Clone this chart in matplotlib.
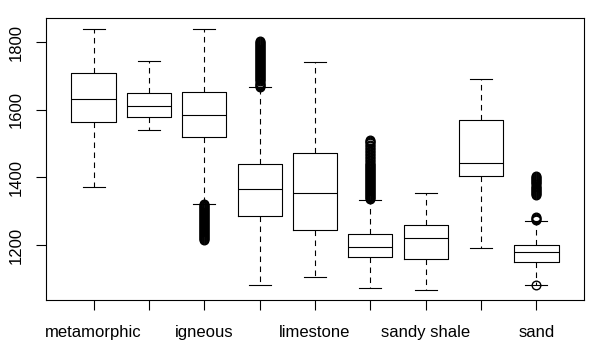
import numpy as np
import matplotlib
matplotlib.use("Agg")
import matplotlib.pyplot as plt

plt.rcParams['font.family'] = ['Liberation Sans', 'DejaVu Sans']

# box statistics (9 groups, every other one labelled)
tick_labels = ["metamorphic", "", "igneous", "", "limestone", "", "sandy shale", "", "sand"]
whislo = [1373, 1541, 1322, 1082, 1106, 1072, 1067, 1192, 1082]
q1 = [1565, 1580, 1520, 1287, 1245, 1163, 1157, 1404, 1150]
med = [1633, 1612, 1586, 1367, 1354, 1194, 1222, 1444, 1179]
q3 = [1708, 1649, 1653, 1439, 1471, 1231, 1258, 1569, 1199]
whishi = [1840, 1745, 1840, 1668, 1742, 1334, 1354, 1691, 1271]

# outliers (dense clusters are listed as closely packed values)
fliers_igneous = [1214, 1217, 1220, 1223, 1226, 1229, 1232, 1235, 1238, 1241,
                  1244, 1247, 1250, 1253, 1256, 1259, 1262, 1265, 1268, 1271,
                  1274, 1277, 1280, 1283, 1286, 1289, 1292, 1295, 1298, 1301,
                  1304, 1307, 1310, 1313, 1316, 1319, 1322]
fliers_4 = [1669, 1672, 1675, 1678, 1681, 1684, 1687, 1690, 1693, 1696,
            1699, 1702, 1705, 1708, 1711, 1714, 1717, 1720, 1723, 1726,
            1729, 1732, 1735, 1738, 1741, 1744, 1747, 1750, 1753, 1756,
            1759, 1762, 1765, 1768, 1771, 1774, 1777, 1780, 1783, 1786,
            1789, 1792, 1795, 1798, 1801, 1804]
fliers_6 = [1335, 1338, 1341, 1344, 1347, 1350, 1353, 1356, 1359, 1362,
            1365, 1368, 1371, 1374, 1377, 1380, 1383, 1386, 1389, 1392,
            1395, 1398, 1401, 1404, 1407, 1410, 1413, 1416, 1419, 1422,
            1425, 1428, 1431, 1434, 1437, 1440, 1444, 1448, 1452, 1457,
            1461, 1466, 1470, 1474, 1479, 1484, 1488, 1492, 1497, 1501,
            1505, 1509, 1512]
fliers_sand = [1081, 1273, 1276, 1279, 1282,
               1349, 1352, 1355, 1358, 1361, 1364, 1367, 1370, 1373, 1376,
               1379, 1382, 1385, 1388, 1391, 1394, 1397, 1400, 1403]
fliers = [[], [], fliers_igneous, fliers_4, [], fliers_6, [], [], fliers_sand]

stats = []
for i in range(len(med)):
    stats.append(dict(whislo=whislo[i], q1=q1[i], med=med[i], q3=q3[i],
                      whishi=whishi[i], fliers=fliers[i]))

fig = plt.figure(figsize=(5.99, 3.56), dpi=100)
ax = fig.add_axes([46/599, 56/356, 538/599, 282/356])

lw = 0.8
ax.bxp(stats, positions=np.arange(1, 10), widths=0.8,
       boxprops=dict(color='black', linewidth=lw),
       medianprops=dict(color='black', linewidth=lw),
       whiskerprops=dict(color='black', linewidth=lw, linestyle=(0, (5, 4))),
       capprops=dict(color='black', linewidth=lw),
       capwidths=0.4,
       flierprops=dict(marker='o', markerfacecolor='none', markeredgecolor='black',
                       markersize=6.2, markeredgewidth=1.0))

ax.set_xlim(0.14, 9.86)
ax.set_ylim(1037, 1872)
ax.set_xticks(np.arange(1, 10))
ax.set_xticklabels(tick_labels, fontsize=12)
ax.set_yticks([1200, 1400, 1600, 1800])
ax.set_yticklabels(['1200', '1400', '1600', '1800'], fontsize=12, rotation=90, va='center')
ax.tick_params(axis='x', length=7, width=0.8, pad=11)
ax.tick_params(axis='y', length=7, width=0.8, pad=9)
for s in ax.spines.values():
    s.set_linewidth(0.8)

fig.savefig('out.png', dpi=100)
